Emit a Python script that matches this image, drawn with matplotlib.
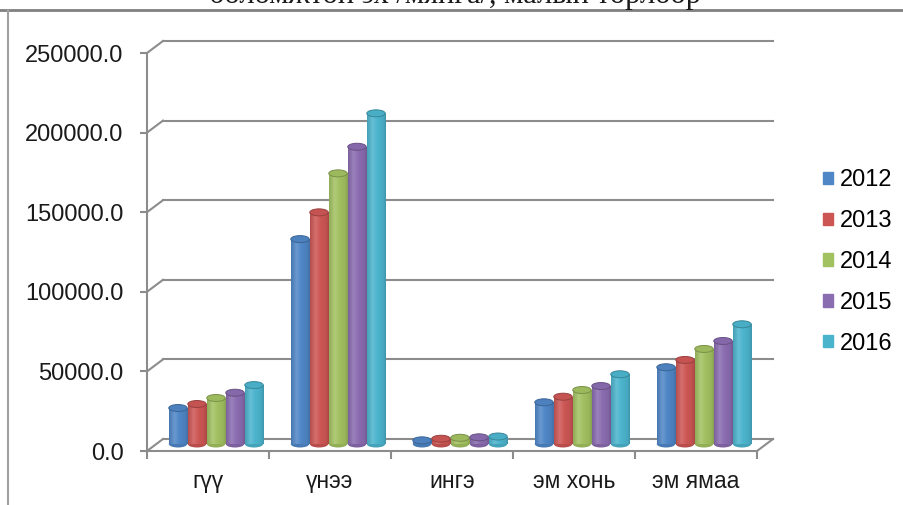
import numpy as np
import matplotlib.pyplot as plt
from matplotlib.patches import Ellipse, Patch
from matplotlib.lines import Line2D
from matplotlib.colors import to_rgb, LinearSegmentedColormap

plt.rcParams['font.family'] = ['Liberation Sans', 'DejaVu Sans']

# --- datos ---
categories = ['гүү', 'үнээ', 'ингэ', 'эм хонь', 'эм ямаа']
years = ['2012', '2013', '2014', '2015', '2016']
v2012 = [22600, 128700, 2300, 26200, 48200]
v2013 = [25100, 145500, 3300, 29700, 52800]
v2014 = [28900, 170000, 3900, 33900, 59700]
v2015 = [32200, 186700, 4200, 36400, 64700]
v2016 = [37000, 207700, 4700, 43800, 75200]
series = [v2012, v2013, v2014, v2015, v2016]
colors = ['#4F86C6', '#CC5654', '#A2C161', '#8A6CB0', '#4BB4CD']
yticks = [0, 50000, 100000, 150000, 200000, 250000]
title = 'боломжтой эх /мянга/, малын төрлөөр'


def mix(c, target, amt):
    return tuple(np.array(to_rgb(c)) * (1 - amt) + np.array(to_rgb(target)) * amt)


W, H = 904, 505
fig = plt.figure(figsize=(W / 100, H / 100), dpi=100)
ax = fig.add_axes([147 / W, 54 / H, 610 / W, 398 / H])

# pixel -> data units (3D depth offsets)
px_x = 5 / 610
px_y = 250000 / 398
bx, by = 16 * px_x, 12 * px_y   # back wall
mx, my = 8 * px_x, 7 * px_y     # bar row
grid_c = '#8c8c8c'

# --- paredes / rejilla ---
for y in yticks:
    ax.plot([bx, 5 + bx], [y + by, y + by], color=grid_c, lw=1.5, clip_on=False, zorder=1)
    ax.plot([0, bx], [y, y + by], color=grid_c, lw=1.5, clip_on=False, zorder=1)
ax.plot([5, 5 + bx], [0, by], color=grid_c, lw=1.5, clip_on=False, zorder=1)

# --- barras cilindricas ---
w = 19 * px_x
eh = 7 * px_y
grad = np.linspace(0, 1, 64)[None, :]
for i, (vals, c) in enumerate(zip(series, colors)):
    xs = np.arange(len(categories)) + 0.5 + mx + (i - 2) * w
    cmap = LinearSegmentedColormap.from_list(
        'cyl%d' % i,
        [(0, mix(c, 'black', 0.12)), (0.3, mix(c, 'white', 0.15)),
         (0.55, c), (0.85, mix(c, 'black', 0.06)), (1, mix(c, 'black', 0.18))])
    bars = ax.bar(xs, vals, width=w * 0.97, bottom=my, color=c, zorder=3, clip_on=False)
    for b, xc, v in zip(bars, xs, vals):
        ax.add_patch(Ellipse((xc, my), w * 0.97, eh, fc=mix(c, 'black', 0.1), ec='none',
                             zorder=2.9, clip_on=False))
        im = ax.imshow(grad, extent=(xc - w / 2, xc + w / 2, my, my + v), aspect='auto',
                       cmap=cmap, interpolation='bilinear', zorder=3.1)
        im.set_clip_path(b)
        ax.add_patch(Ellipse((xc, my + v), w * 0.97, eh, fc=mix(c, 'black', 0.04),
                             ec=mix(c, 'black', 0.25), lw=0.7, zorder=3.2, clip_on=False))

ax.set_xlim(0, 5)
ax.set_ylim(0, 250000)

# --- ejes ---
for s in ['top', 'right']:
    ax.spines[s].set_visible(False)
for s in ['left', 'bottom']:
    ax.spines[s].set_color(grid_c)
    ax.spines[s].set_linewidth(1.5)
ax.set_yticks(yticks)
ax.set_yticklabels(['%.1f' % v for v in yticks])
ax.tick_params(axis='y', length=5, width=1.5, color=grid_c, pad=12,
               labelsize=17, labelcolor='#1a1a1a')
ax.set_xticks(range(6))
ax.set_xticklabels([''] * 6)
ax.set_xticks(np.arange(5) + 0.5, minor=True)
ax.set_xticklabels(categories, minor=True)
ax.tick_params(axis='x', which='major', length=6, width=1.5, color=grid_c)
ax.tick_params(axis='x', which='minor', length=0, pad=14, labelsize=16.5, labelcolor='#1a1a1a')

# --- leyenda ---
handles = [Patch(color=c) for c in colors]
ax.legend(handles, years, loc='center left', bbox_to_anchor=(823 / W, 1 - 262 / H),
          bbox_transform=fig.transFigure, frameon=False, fontsize=17,
          handlelength=0.42, handleheight=0.42, handletextpad=0.3,
          labelspacing=0.8, borderpad=0, borderaxespad=0)

# --- titulo recortado y marco ---
fig.text(455 / W, 1 - 3 / H, title, ha='center', va='baseline', fontsize=22,
         family=['Liberation Serif', 'DejaVu Serif'], color='#1a1a1a')
fig.add_artist(Line2D([0, 1], [1 - 9.5 / H] * 2, transform=fig.transFigure,
                      color='#808080', lw=2))
fig.add_artist(Line2D([7.5 / W] * 2, [0, 1 - 10 / H], transform=fig.transFigure,
                      color='#a0a0a0', lw=1.5))

fig.savefig('out.png', dpi=100)
